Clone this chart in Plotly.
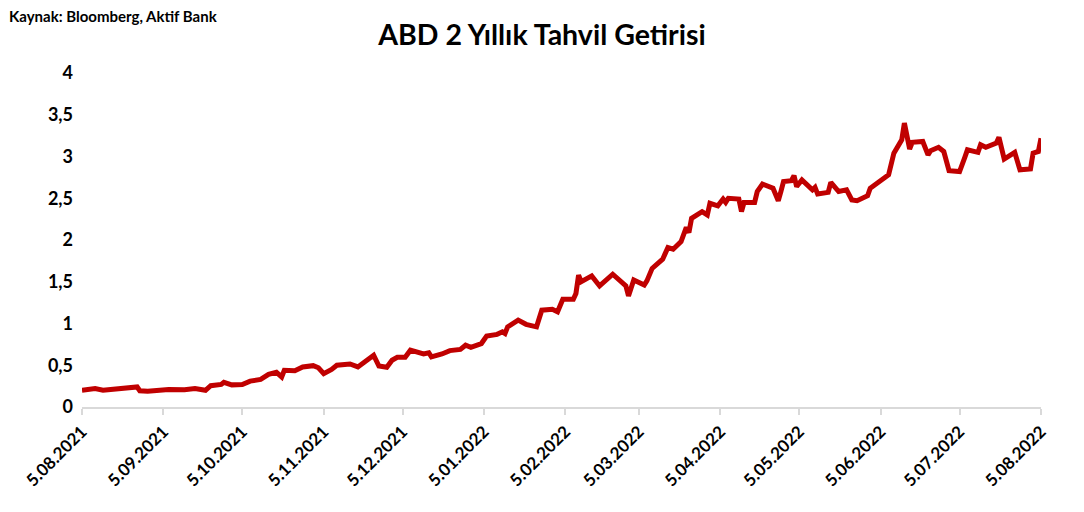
import plotly.graph_objects as go

dates = [
    "2021-08-05", "2021-08-10", "2021-08-13", "2021-08-20", "2021-08-26", "2021-08-27",
    "2021-08-30", "2021-09-07", "2021-09-13", "2021-09-17", "2021-09-21", "2021-09-23",
    "2021-09-27", "2021-09-28", "2021-10-01", "2021-10-05", "2021-10-08", "2021-10-12",
    "2021-10-15", "2021-10-18", "2021-10-20", "2021-10-21", "2021-10-25", "2021-10-28",
    "2021-11-01", "2021-11-03", "2021-11-05", "2021-11-08", "2021-11-10", "2021-11-15",
    "2021-11-18", "2021-11-24", "2021-11-26", "2021-11-29", "2021-12-01", "2021-12-03",
    "2021-12-06", "2021-12-08", "2021-12-13", "2021-12-15", "2021-12-16", "2021-12-20",
    "2021-12-23", "2021-12-27", "2021-12-29", "2021-12-31", "2022-01-04", "2022-01-06",
    "2022-01-10", "2022-01-12", "2022-01-13", "2022-01-14", "2022-01-18", "2022-01-21",
    "2022-01-25", "2022-01-27", "2022-01-31", "2022-02-02", "2022-02-04", "2022-02-08",
    "2022-02-09", "2022-02-10", "2022-02-11", "2022-02-15", "2022-02-18", "2022-02-23",
    "2022-02-25", "2022-02-28", "2022-03-01", "2022-03-03", "2022-03-07", "2022-03-08",
    "2022-03-10", "2022-03-14", "2022-03-15", "2022-03-16", "2022-03-18", "2022-03-21",
    "2022-03-23", "2022-03-24", "2022-03-25", "2022-03-29", "2022-03-31", "2022-04-01",
    "2022-04-04", "2022-04-06", "2022-04-07", "2022-04-08", "2022-04-12", "2022-04-13",
    "2022-04-14", "2022-04-18", "2022-04-19", "2022-04-21", "2022-04-25", "2022-04-27",
    "2022-04-28", "2022-04-29", "2022-05-02", "2022-05-03", "2022-05-04", "2022-05-06",
    "2022-05-10", "2022-05-11", "2022-05-12", "2022-05-16", "2022-05-17", "2022-05-20",
    "2022-05-23", "2022-05-25", "2022-05-27", "2022-05-31", "2022-06-01", "2022-06-03",
    "2022-06-08", "2022-06-10", "2022-06-13", "2022-06-14", "2022-06-16", "2022-06-17",
    "2022-06-21", "2022-06-23", "2022-06-24", "2022-06-27", "2022-06-29", "2022-07-01",
    "2022-07-05", "2022-07-07", "2022-07-08", "2022-07-12", "2022-07-13", "2022-07-15",
    "2022-07-19", "2022-07-20", "2022-07-21", "2022-07-22", "2022-07-26", "2022-07-28",
    "2022-08-01", "2022-08-02", "2022-08-04", "2022-08-05",
]

yields = [
    0.20, 0.22, 0.20, 0.215, 0.24, 0.195,
    0.19, 0.21, 0.207, 0.22, 0.20, 0.255,
    0.27, 0.295, 0.265, 0.27, 0.31, 0.33,
    0.39, 0.415, 0.36, 0.44, 0.435, 0.48,
    0.495, 0.47, 0.40, 0.45, 0.50, 0.515,
    0.48, 0.62, 0.49, 0.475, 0.56, 0.595,
    0.595, 0.68, 0.635, 0.65, 0.60, 0.635,
    0.675, 0.69, 0.74, 0.715, 0.76, 0.85,
    0.87, 0.90, 0.88, 0.96, 1.04, 0.99,
    0.96, 1.16, 1.17, 1.14, 1.29, 1.29,
    1.36, 1.58, 1.50, 1.57, 1.45, 1.59,
    1.53, 1.45, 1.33, 1.52, 1.46, 1.51,
    1.66, 1.77, 1.84, 1.91, 1.89, 1.98,
    2.15, 2.09, 2.26, 2.34, 2.30, 2.44,
    2.41, 2.49, 2.45, 2.50, 2.49, 2.34,
    2.45, 2.45, 2.58, 2.67, 2.62, 2.47,
    2.58, 2.70, 2.71, 2.77, 2.64, 2.72,
    2.60, 2.63, 2.55, 2.57, 2.69, 2.58,
    2.60, 2.48, 2.47, 2.53, 2.62, 2.67,
    2.78, 3.04, 3.20, 3.40, 3.09, 3.17,
    3.18, 3.02, 3.07, 3.11, 3.06, 2.83,
    2.82, 2.99, 3.08, 3.05, 3.14, 3.11,
    3.16, 3.23, 3.09, 2.97, 3.05, 2.84,
    2.85, 3.04, 3.06, 3.22,
]

x_ticks = [
    "2021-08-05", "2021-09-05", "2021-10-05", "2021-11-05", "2021-12-05", "2022-01-05",
    "2022-02-05", "2022-03-05", "2022-04-05", "2022-05-05", "2022-06-05", "2022-07-05",
    "2022-08-05",
]
y_ticks = [0, 0.5, 1, 1.5, 2, 2.5, 3, 3.5, 4]
y_labels = ["0", "0,5", "1", "1,5", "2", "2,5", "3", "3,5", "4"]

title_text = "ABD 2 Yıllık Tahvil Getirisi"
source_text = "Kaynak: Bloomberg, Aktif Bank"

FONT = "Lato"

fig = go.Figure()
fig.add_trace(go.Scatter(
    x=dates, y=yields, mode="lines",
    line=dict(color="#C00000", width=5),
    hoverinfo="x+y",
))

fig.update_layout(
    width=1068, height=496,
    margin=dict(l=74, r=35, t=65, b=97),
    paper_bgcolor="white", plot_bgcolor="white",
    showlegend=False,
    font=dict(family=FONT, color="#000000"),
    title=dict(
        text="<b>" + title_text + "</b>",
        x=0.5, xanchor="center", xref="container",
        y=0.946, yanchor="middle", yref="container",
        font=dict(family=FONT, size=28.5, color="#000000"),
    ),
    annotations=[dict(
        text="<b>" + source_text + "</b>",
        xref="paper", yref="paper", x=-0.078, y=1.171,
        xanchor="left", yanchor="middle", showarrow=False,
        font=dict(family=FONT, size=15, color="#000000"),
    )],
)

fig.update_xaxes(
    type="date",
    range=["2021-08-05", "2022-08-05"],
    tickvals=x_ticks,
    tickformat="%-d.%m.%Y",
    tickangle=-45,
    tickfont=dict(family=FONT, size=17, color="#000000", weight="bold"),
    showgrid=False, zeroline=False,
    showline=True, linecolor="#d9d9d9", linewidth=2,
    ticks="outside", ticklen=6, tickwidth=2, tickcolor="#d9d9d9",
    automargin=False,
)

fig.update_yaxes(
    range=[0, 4],
    tickvals=y_ticks, ticktext=y_labels,
    tickfont=dict(family=FONT, size=18, color="#000000", weight="bold"),
    showgrid=False, zeroline=False, showline=False,
    ticks="", ticklabelstandoff=8,
    automargin=False,
)

fig.write_html("out.html")
